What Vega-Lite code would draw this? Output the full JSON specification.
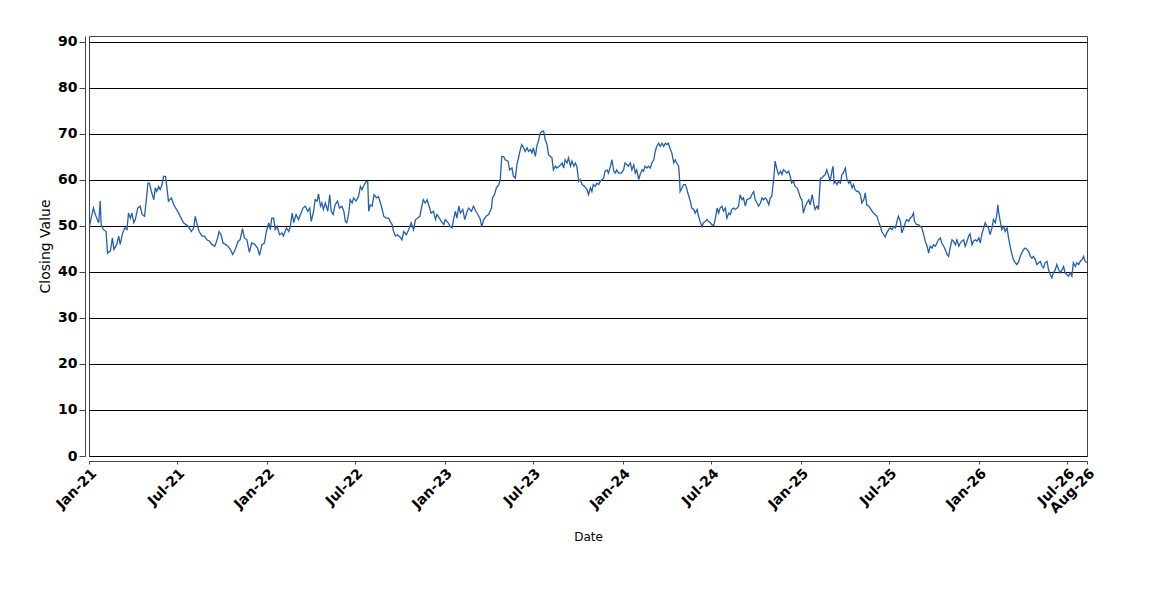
{
"$schema": "https://vega.github.io/schema/vega-lite/v6.json",
"width": 998,
"height": 420,
"autosize": {"type": "none"},
"padding": {"left": 89, "top": 36, "right": 63, "bottom": 144},
"background": "white",
"config": {"view": {"stroke": "#444444", "strokeWidth": 1}, "font": "DejaVu Sans"},
"data": {"values": [
{"date":"2021-01-01","value":49.5},{"date":"2021-01-07","value":52.5},{"date":"2021-01-10","value":53.9},{"date":"2021-01-14","value":52.5},{"date":"2021-01-17","value":51.7},{"date":"2021-01-21","value":50.7},{"date":"2021-01-24","value":55.4},{"date":"2021-01-26","value":50.3},{"date":"2021-01-31","value":49.2},{"date":"2021-02-05","value":48.8},{"date":"2021-02-08","value":44.1},{"date":"2021-02-14","value":44.6},{"date":"2021-02-18","value":47.4},{"date":"2021-02-21","value":44.9},{"date":"2021-02-27","value":46},{"date":"2021-03-03","value":47.8},{"date":"2021-03-06","value":46},{"date":"2021-03-11","value":48.5},{"date":"2021-03-16","value":49.6},{"date":"2021-03-20","value":49.2},{"date":"2021-03-23","value":52.8},{"date":"2021-03-27","value":51.7},{"date":"2021-03-30","value":52.8},{"date":"2021-04-03","value":50.7},{"date":"2021-04-06","value":51.4},{"date":"2021-04-11","value":53.9},{"date":"2021-04-16","value":54.3},{"date":"2021-04-20","value":52.5},{"date":"2021-04-25","value":52.1},{"date":"2021-04-29","value":56.1},{"date":"2021-05-02","value":59.3},{"date":"2021-05-05","value":59.3},{"date":"2021-05-09","value":57.5},{"date":"2021-05-14","value":55.7},{"date":"2021-05-17","value":58.3},{"date":"2021-05-20","value":57.5},{"date":"2021-05-24","value":58.6},{"date":"2021-05-27","value":57.9},{"date":"2021-05-31","value":59},{"date":"2021-06-03","value":60.8},{"date":"2021-06-07","value":60.8},{"date":"2021-06-10","value":58.3},{"date":"2021-06-13","value":55.4},{"date":"2021-06-19","value":56.1},{"date":"2021-06-24","value":54.6},{"date":"2021-06-28","value":53.9},{"date":"2021-07-04","value":52.8},{"date":"2021-07-09","value":51.7},{"date":"2021-07-14","value":50.7},{"date":"2021-07-19","value":50.3},{"date":"2021-07-24","value":49.9},{"date":"2021-07-30","value":48.8},{"date":"2021-08-04","value":49.6},{"date":"2021-08-07","value":52.1},{"date":"2021-08-11","value":50.3},{"date":"2021-08-15","value":48.8},{"date":"2021-08-21","value":47.8},{"date":"2021-08-26","value":47.8},{"date":"2021-08-31","value":47},{"date":"2021-09-05","value":46.7},{"date":"2021-09-10","value":46},{"date":"2021-09-16","value":45.6},{"date":"2021-09-21","value":47},{"date":"2021-09-25","value":48.8},{"date":"2021-09-29","value":48.1},{"date":"2021-10-03","value":46.3},{"date":"2021-10-08","value":46},{"date":"2021-10-13","value":45.6},{"date":"2021-10-18","value":44.9},{"date":"2021-10-23","value":43.8},{"date":"2021-10-28","value":44.9},{"date":"2021-11-03","value":46.7},{"date":"2021-11-07","value":47},{"date":"2021-11-12","value":49.4},{"date":"2021-11-16","value":47.4},{"date":"2021-11-21","value":47},{"date":"2021-11-26","value":44.3},{"date":"2021-12-01","value":46.3},{"date":"2021-12-07","value":46},
{"date":"2021-12-13","value":45.2},{"date":"2021-12-17","value":43.6},{"date":"2021-12-22","value":46},{"date":"2021-12-27","value":46.3},{"date":"2021-12-31","value":48.8},{"date":"2022-01-05","value":50.7},{"date":"2022-01-08","value":49.2},{"date":"2022-01-11","value":51.7},{"date":"2022-01-15","value":51.7},{"date":"2022-01-18","value":49.2},{"date":"2022-01-22","value":49.9},{"date":"2022-01-27","value":48.1},{"date":"2022-02-01","value":48.5},{"date":"2022-02-04","value":47.8},{"date":"2022-02-10","value":49.6},{"date":"2022-02-15","value":48.8},{"date":"2022-02-18","value":49.9},{"date":"2022-02-22","value":52.8},{"date":"2022-02-25","value":50.7},{"date":"2022-03-02","value":52.5},{"date":"2022-03-07","value":51.4},{"date":"2022-03-11","value":52.5},{"date":"2022-03-16","value":53.9},{"date":"2022-03-21","value":54.3},{"date":"2022-03-26","value":53.2},{"date":"2022-03-30","value":53.9},{"date":"2022-04-02","value":51},{"date":"2022-04-07","value":53.2},{"date":"2022-04-10","value":55.7},{"date":"2022-04-14","value":55.4},{"date":"2022-04-17","value":57},{"date":"2022-04-21","value":54.3},{"date":"2022-04-24","value":55},{"date":"2022-04-27","value":53.6},{"date":"2022-05-01","value":55},{"date":"2022-05-06","value":53.2},{"date":"2022-05-10","value":56.8},{"date":"2022-05-13","value":53.2},{"date":"2022-05-17","value":52.5},{"date":"2022-05-21","value":54.6},{"date":"2022-05-26","value":55.4},{"date":"2022-05-30","value":53.9},{"date":"2022-06-04","value":54.3},{"date":"2022-06-08","value":53.2},{"date":"2022-06-11","value":51},{"date":"2022-06-14","value":50.7},{"date":"2022-06-18","value":52.8},{"date":"2022-06-21","value":55.7},{"date":"2022-06-25","value":55},{"date":"2022-06-28","value":56.1},{"date":"2022-07-03","value":55.4},{"date":"2022-07-08","value":56.4},{"date":"2022-07-12","value":58.6},{"date":"2022-07-15","value":57.9},{"date":"2022-07-20","value":59},{"date":"2022-07-24","value":59.7},{"date":"2022-07-27","value":59.7},{"date":"2022-07-29","value":53.2},{"date":"2022-08-01","value":54.6},{"date":"2022-08-05","value":54.3},{"date":"2022-08-09","value":56.8},{"date":"2022-08-14","value":56.1},{"date":"2022-08-18","value":56.4},{"date":"2022-08-22","value":55},{"date":"2022-08-25","value":53.9},{"date":"2022-08-29","value":52.1},{"date":"2022-09-03","value":51.7},{"date":"2022-09-08","value":51.7},{"date":"2022-09-11","value":51},{"date":"2022-09-15","value":50.3},{"date":"2022-09-18","value":48.8},{"date":"2022-09-22","value":47.8},{"date":"2022-09-26","value":48.1},{"date":"2022-10-02","value":47.5},{"date":"2022-10-05","value":47},{"date":"2022-10-09","value":48.8},{"date":"2022-10-14","value":48.1},{"date":"2022-10-19","value":49.2},{"date":"2022-10-24","value":50.7},{"date":"2022-10-29","value":49.2},{"date":"2022-11-02","value":51.4},{"date":"2022-11-06","value":51.7},{"date":"2022-11-11","value":52.1},
{"date":"2022-11-14","value":53.9},{"date":"2022-11-18","value":55.7},{"date":"2022-11-22","value":55},{"date":"2022-11-26","value":55.7},{"date":"2022-11-30","value":54.3},{"date":"2022-12-04","value":52.8},{"date":"2022-12-09","value":53.2},{"date":"2022-12-13","value":51.4},{"date":"2022-12-16","value":52.5},{"date":"2022-12-21","value":51.7},{"date":"2022-12-25","value":51},{"date":"2022-12-30","value":50.3},{"date":"2023-01-02","value":51.4},{"date":"2023-01-08","value":50.7},{"date":"2023-01-12","value":49.9},{"date":"2023-01-16","value":49.6},{"date":"2023-01-19","value":51.4},{"date":"2023-01-23","value":53.2},{"date":"2023-01-26","value":51.7},{"date":"2023-01-30","value":54.3},{"date":"2023-02-02","value":52.8},{"date":"2023-02-07","value":53.6},{"date":"2023-02-11","value":51.4},{"date":"2023-02-16","value":53.2},{"date":"2023-02-19","value":53.9},{"date":"2023-02-25","value":53.2},{"date":"2023-03-01","value":54.3},{"date":"2023-03-06","value":53.2},{"date":"2023-03-10","value":52.5},{"date":"2023-03-15","value":51.4},{"date":"2023-03-18","value":49.8},{"date":"2023-03-22","value":51.4},{"date":"2023-03-27","value":52.1},{"date":"2023-04-01","value":52.5},{"date":"2023-04-07","value":53.9},{"date":"2023-04-09","value":56.1},{"date":"2023-04-13","value":56.8},{"date":"2023-04-17","value":58.3},{"date":"2023-04-22","value":59},{"date":"2023-04-25","value":60.1},{"date":"2023-04-28","value":65.1},{"date":"2023-05-02","value":65.1},{"date":"2023-05-05","value":64.4},{"date":"2023-05-11","value":64.1},{"date":"2023-05-14","value":62.2},{"date":"2023-05-19","value":62.6},{"date":"2023-05-22","value":60.8},{"date":"2023-05-26","value":60.4},{"date":"2023-05-29","value":63.3},{"date":"2023-06-02","value":65.1},{"date":"2023-06-05","value":66.6},{"date":"2023-06-08","value":67.7},{"date":"2023-06-12","value":67},{"date":"2023-06-15","value":66.2},{"date":"2023-06-19","value":67},{"date":"2023-06-22","value":66.2},{"date":"2023-06-26","value":66.6},{"date":"2023-06-29","value":65.9},{"date":"2023-07-02","value":67},{"date":"2023-07-06","value":65.1},{"date":"2023-07-09","value":67.3},{"date":"2023-07-13","value":68.8},{"date":"2023-07-16","value":70.2},{"date":"2023-07-20","value":70.6},{"date":"2023-07-23","value":70.6},{"date":"2023-07-26","value":68.8},{"date":"2023-07-30","value":67.7},{"date":"2023-08-02","value":65.5},{"date":"2023-08-06","value":65.1},{"date":"2023-08-09","value":64.8},{"date":"2023-08-12","value":62.2},{"date":"2023-08-16","value":63},{"date":"2023-08-19","value":62.6},{"date":"2023-08-24","value":63},{"date":"2023-08-30","value":63.7},{"date":"2023-09-02","value":62.6},{"date":"2023-09-05","value":64.4},{"date":"2023-09-09","value":63.7},{"date":"2023-09-12","value":64.8},{"date":"2023-09-16","value":63},{"date":"2023-09-19","value":64.1},{"date":"2023-09-23","value":63},{"date":"2023-09-26","value":63.7},{"date":"2023-09-29","value":63},{"date":"2023-10-03","value":59.7},{"date":"2023-10-06","value":60.1},{"date":"2023-10-10","value":59},{"date":"2023-10-15","value":58.6},
{"date":"2023-10-20","value":57.9},{"date":"2023-10-23","value":56.8},{"date":"2023-10-27","value":58.3},{"date":"2023-10-30","value":57.5},{"date":"2023-11-02","value":59},{"date":"2023-11-06","value":58.6},{"date":"2023-11-09","value":59.3},{"date":"2023-11-13","value":59},{"date":"2023-11-16","value":59.7},{"date":"2023-11-20","value":60.1},{"date":"2023-11-23","value":60.4},{"date":"2023-11-26","value":61.9},{"date":"2023-11-30","value":62.2},{"date":"2023-12-03","value":61.5},{"date":"2023-12-07","value":63},{"date":"2023-12-10","value":64.4},{"date":"2023-12-14","value":61.9},{"date":"2023-12-17","value":61.5},{"date":"2023-12-20","value":62.2},{"date":"2023-12-24","value":61.5},{"date":"2023-12-29","value":61.5},{"date":"2024-01-03","value":62.2},{"date":"2024-01-06","value":63.7},{"date":"2024-01-10","value":63.3},{"date":"2024-01-13","value":63},{"date":"2024-01-17","value":63.7},{"date":"2024-01-20","value":62.2},{"date":"2024-01-24","value":63.3},{"date":"2024-01-27","value":61.5},{"date":"2024-01-30","value":62.2},{"date":"2024-02-03","value":60.1},{"date":"2024-02-06","value":61.2},{"date":"2024-02-10","value":62.2},{"date":"2024-02-13","value":61.9},{"date":"2024-02-16","value":63},{"date":"2024-02-20","value":62.6},{"date":"2024-02-23","value":63},{"date":"2024-02-27","value":62.6},{"date":"2024-03-01","value":63.7},{"date":"2024-03-05","value":64.4},{"date":"2024-03-08","value":66.2},{"date":"2024-03-11","value":67.3},{"date":"2024-03-15","value":68},{"date":"2024-03-18","value":67.3},{"date":"2024-03-22","value":68},{"date":"2024-03-25","value":67.3},{"date":"2024-03-29","value":68},{"date":"2024-04-01","value":67.7},{"date":"2024-04-04","value":68},{"date":"2024-04-08","value":66.6},{"date":"2024-04-11","value":65.9},{"date":"2024-04-15","value":63.7},{"date":"2024-04-18","value":64.4},{"date":"2024-04-21","value":63.7},{"date":"2024-04-25","value":63},{"date":"2024-04-27","value":60.1},{"date":"2024-04-28","value":57.5},{"date":"2024-05-02","value":58.3},{"date":"2024-05-05","value":59},{"date":"2024-05-09","value":59},{"date":"2024-05-12","value":57.9},{"date":"2024-05-15","value":56.8},{"date":"2024-05-19","value":55.4},{"date":"2024-05-22","value":53.9},{"date":"2024-05-26","value":53.6},{"date":"2024-05-29","value":52.8},{"date":"2024-06-02","value":53.6},{"date":"2024-06-05","value":52.1},{"date":"2024-06-08","value":51},{"date":"2024-06-12","value":49.9},{"date":"2024-06-15","value":50.7},{"date":"2024-06-19","value":51},{"date":"2024-06-22","value":51.4},{"date":"2024-06-25","value":51},{"date":"2024-06-29","value":50.7},{"date":"2024-07-02","value":50.3},{"date":"2024-07-06","value":50.1},{"date":"2024-07-09","value":51.4},{"date":"2024-07-13","value":53.9},{"date":"2024-07-16","value":52.8},{"date":"2024-07-19","value":53.9},{"date":"2024-07-23","value":54.3},{"date":"2024-07-26","value":53.2},{"date":"2024-07-30","value":53.9},{"date":"2024-08-02","value":51.7},{"date":"2024-08-06","value":52.8},{"date":"2024-08-09","value":52.5},{"date":"2024-08-12","value":53.6},{"date":"2024-08-16","value":53.9},{"date":"2024-08-19","value":53.6},{"date":"2024-08-23","value":53.9},{"date":"2024-08-26","value":54.3},{"date":"2024-08-29","value":56.8},{"date":"2024-09-02","value":55.7},{"date":"2024-09-05","value":56.1},{"date":"2024-09-09","value":54.3},{"date":"2024-09-12","value":55.7},
{"date":"2024-09-19","value":56.1},{"date":"2024-09-22","value":56.8},{"date":"2024-09-26","value":57.5},{"date":"2024-09-29","value":55.7},{"date":"2024-10-03","value":55},{"date":"2024-10-06","value":54.3},{"date":"2024-10-10","value":55},{"date":"2024-10-13","value":56.1},{"date":"2024-10-16","value":55.7},{"date":"2024-10-20","value":56.1},{"date":"2024-10-23","value":55.7},{"date":"2024-10-27","value":54.6},{"date":"2024-10-30","value":56.1},{"date":"2024-11-02","value":56.4},{"date":"2024-11-06","value":60.1},{"date":"2024-11-09","value":64.1},{"date":"2024-11-13","value":62.2},{"date":"2024-11-16","value":61.2},{"date":"2024-11-20","value":61.9},{"date":"2024-11-23","value":61.2},{"date":"2024-11-26","value":62.2},{"date":"2024-11-30","value":61.9},{"date":"2024-12-03","value":61.5},{"date":"2024-12-07","value":61.9},{"date":"2024-12-10","value":60.8},{"date":"2024-12-13","value":59.3},{"date":"2024-12-17","value":59.7},{"date":"2024-12-20","value":58.6},{"date":"2024-12-24","value":58.3},{"date":"2024-12-27","value":57.5},{"date":"2024-12-31","value":56.1},{"date":"2025-01-03","value":55.7},{"date":"2025-01-06","value":52.8},{"date":"2025-01-10","value":54.3},{"date":"2025-01-13","value":55},{"date":"2025-01-17","value":55.7},{"date":"2025-01-20","value":54.6},{"date":"2025-01-24","value":56.8},{"date":"2025-01-27","value":55},{"date":"2025-01-30","value":53.6},{"date":"2025-02-03","value":54.3},{"date":"2025-02-06","value":53.6},{"date":"2025-02-10","value":60.4},{"date":"2025-02-13","value":60.4},{"date":"2025-02-16","value":60.8},{"date":"2025-02-20","value":61.2},{"date":"2025-02-23","value":62.2},{"date":"2025-02-27","value":60.8},{"date":"2025-03-02","value":59.7},{"date":"2025-03-06","value":62.2},{"date":"2025-03-08","value":63},{"date":"2025-03-10","value":59.3},{"date":"2025-03-12","value":59.7},{"date":"2025-03-16","value":59},{"date":"2025-03-19","value":59.7},{"date":"2025-03-23","value":59.3},{"date":"2025-03-26","value":61.2},{"date":"2025-03-29","value":61.5},{"date":"2025-04-02","value":62.6},{"date":"2025-04-05","value":60.4},{"date":"2025-04-09","value":59.3},{"date":"2025-04-12","value":59.7},{"date":"2025-04-16","value":58.3},{"date":"2025-04-19","value":59},{"date":"2025-04-22","value":57.9},{"date":"2025-04-26","value":57.5},{"date":"2025-04-29","value":57.5},{"date":"2025-05-03","value":56.8},{"date":"2025-05-06","value":55},{"date":"2025-05-10","value":55.7},{"date":"2025-05-13","value":57.2},{"date":"2025-05-16","value":54.6},{"date":"2025-05-20","value":54.3},{"date":"2025-05-23","value":53.9},{"date":"2025-05-27","value":53.2},{"date":"2025-05-30","value":52.8},{"date":"2025-06-02","value":52.5},{"date":"2025-06-06","value":52.1},{"date":"2025-06-09","value":51},{"date":"2025-06-13","value":49.9},{"date":"2025-06-16","value":48.8},{"date":"2025-06-20","value":48.1},{"date":"2025-06-23","value":47.6},{"date":"2025-06-26","value":48.5},{"date":"2025-06-30","value":49.2},{"date":"2025-07-03","value":49.6},{"date":"2025-07-07","value":49.2},{"date":"2025-07-10","value":49.9},{"date":"2025-07-14","value":49.6},{"date":"2025-07-17","value":51},{"date":"2025-07-20","value":52.1},{"date":"2025-07-24","value":51},{"date":"2025-07-27","value":48.5},{"date":"2025-07-31","value":49.6},{"date":"2025-08-03","value":50.7},{"date":"2025-08-06","value":51.4},{"date":"2025-08-10","value":51},{"date":"2025-08-13","value":51.7},{"date":"2025-08-17","value":52.1},{"date":"2025-08-20","value":52.8},{"date":"2025-08-22","value":51},
{"date":"2025-08-26","value":50.3},{"date":"2025-08-30","value":50.3},{"date":"2025-09-03","value":49.9},{"date":"2025-09-06","value":49.6},{"date":"2025-09-10","value":48.1},{"date":"2025-09-13","value":46.7},{"date":"2025-09-17","value":45.6},{"date":"2025-09-20","value":44.1},{"date":"2025-09-23","value":45.6},{"date":"2025-09-27","value":45.2},{"date":"2025-09-30","value":45.9},{"date":"2025-10-04","value":45.6},{"date":"2025-10-07","value":46.3},{"date":"2025-10-10","value":47},{"date":"2025-10-14","value":47.4},{"date":"2025-10-17","value":46.3},{"date":"2025-10-21","value":45.6},{"date":"2025-10-24","value":44.9},{"date":"2025-10-28","value":43.8},{"date":"2025-10-31","value":43.4},{"date":"2025-11-03","value":45.2},{"date":"2025-11-07","value":47},{"date":"2025-11-10","value":46.7},{"date":"2025-11-14","value":45.9},{"date":"2025-11-17","value":47},{"date":"2025-11-21","value":45.6},{"date":"2025-11-24","value":46.3},{"date":"2025-11-27","value":46.7},{"date":"2025-12-01","value":47},{"date":"2025-12-04","value":45.6},{"date":"2025-12-08","value":46.7},{"date":"2025-12-11","value":47.8},{"date":"2025-12-14","value":48.3},{"date":"2025-12-18","value":45.9},{"date":"2025-12-21","value":46.7},{"date":"2025-12-25","value":47},{"date":"2025-12-28","value":46.7},{"date":"2026-01-01","value":47.4},{"date":"2026-01-04","value":46.3},{"date":"2026-01-07","value":48.1},{"date":"2026-01-11","value":49.6},{"date":"2026-01-14","value":50.7},{"date":"2026-01-18","value":49.9},{"date":"2026-01-21","value":49.6},{"date":"2026-01-24","value":48.1},{"date":"2026-01-28","value":49.6},{"date":"2026-01-31","value":51.4},{"date":"2026-02-04","value":50.7},{"date":"2026-02-07","value":52.5},{"date":"2026-02-09","value":54.6},{"date":"2026-02-11","value":52.8},{"date":"2026-02-14","value":51},{"date":"2026-02-17","value":49.2},{"date":"2026-02-21","value":49.9},{"date":"2026-02-24","value":48.8},{"date":"2026-02-28","value":49.6},{"date":"2026-03-03","value":47.4},{"date":"2026-03-07","value":45.2},{"date":"2026-03-10","value":43.8},{"date":"2026-03-13","value":42.7},{"date":"2026-03-17","value":42},{"date":"2026-03-20","value":41.6},{"date":"2026-03-24","value":42.3},{"date":"2026-03-27","value":43.4},{"date":"2026-03-30","value":44.1},{"date":"2026-04-03","value":44.9},{"date":"2026-04-06","value":45.2},{"date":"2026-04-10","value":44.9},{"date":"2026-04-13","value":44.5},{"date":"2026-04-17","value":43.4},{"date":"2026-04-20","value":43},{"date":"2026-04-23","value":43.4},{"date":"2026-04-27","value":42.7},{"date":"2026-04-30","value":41.6},{"date":"2026-05-04","value":42},{"date":"2026-05-07","value":42.3},{"date":"2026-05-11","value":41.2},{"date":"2026-05-14","value":40.9},{"date":"2026-05-17","value":42},{"date":"2026-05-21","value":42.3},{"date":"2026-05-24","value":40.5},{"date":"2026-05-28","value":39.4},{"date":"2026-05-31","value":38.7},{"date":"2026-06-03","value":39.8},{"date":"2026-06-07","value":40.5},{"date":"2026-06-10","value":41.6},{"date":"2026-06-14","value":40.5},{"date":"2026-06-17","value":39.8},{"date":"2026-06-21","value":40.5},{"date":"2026-06-24","value":41.2},{"date":"2026-06-27","value":39.8},{"date":"2026-07-01","value":39.4},{"date":"2026-07-04","value":39.1},{"date":"2026-07-08","value":39.8},{"date":"2026-07-11","value":39.1},{"date":"2026-07-14","value":42},{"date":"2026-07-18","value":41.2},{"date":"2026-07-21","value":42},{"date":"2026-07-25","value":41.6},{"date":"2026-07-28","value":42.3},{"date":"2026-08-01","value":42.7},{"date":"2026-08-04","value":43.4},{"date":"2026-08-07","value":42.3},{"date":"2026-08-11","value":42}
]},
"mark": {"type": "line", "color": "#2260ae", "strokeWidth": 1.3, "clip": true},
"encoding": {
"x": {"field": "date", "type": "temporal",
 "scale": {"type": "utc", "domain": [{"year": 2021, "month": 1, "date": 1, "utc": true}, {"year": 2026, "month": 8, "date": 11, "utc": true}]},
 "axis": {"title": "Date", "titleFont": "DejaVu Sans", "titleFontSize": 12, "titleFontWeight": "normal", "titleColor": "#000000", "titleY": 75, "titleBaseline": "middle",
  "offset": 5, "domainColor": "#444444", "tickColor": "#444444", "tickSize": 3, "grid": false,
  "labelAngle": -45, "labelAlign": "right", "labelBaseline": "top", "labelFontSize": 14, "labelFontWeight": "bold", "labelColor": "#000000", "labelPadding": 2, "labelOverlap": false, "labelFlush": false,
  "format": "%b-%y",
  "values": [{"year": 2021, "month": 1, "date": 1, "utc": true}, {"year": 2021, "month": 7, "date": 1, "utc": true}, {"year": 2022, "month": 1, "date": 1, "utc": true}, {"year": 2022, "month": 7, "date": 1, "utc": true}, {"year": 2023, "month": 1, "date": 1, "utc": true}, {"year": 2023, "month": 7, "date": 1, "utc": true}, {"year": 2024, "month": 1, "date": 1, "utc": true}, {"year": 2024, "month": 7, "date": 1, "utc": true}, {"year": 2025, "month": 1, "date": 1, "utc": true}, {"year": 2025, "month": 7, "date": 1, "utc": true}, {"year": 2026, "month": 1, "date": 1, "utc": true}, {"year": 2026, "month": 7, "date": 1, "utc": true}, {"year": 2026, "month": 8, "date": 11, "utc": true}]}},
"y": {"field": "value", "type": "quantitative",
 "scale": {"domain": [0, 91.3], "nice": false, "zero": true},
 "axis": {"title": "Closing Value", "titleFont": "DejaVu Sans", "titleFontSize": 14, "titleFontWeight": "normal", "titleColor": "#000000", "titleX": -40, "titleBaseline": "middle", "titleAlign": "center",
  "offset": 4, "values": [0, 10, 20, 30, 40, 50, 60, 70, 80, 90], "tickSize": 6, "tickColor": "#444444", "domainColor": "#444444",
  "labelFontSize": 14, "labelFontWeight": "bold", "labelColor": "#000000", "labelPadding": 2,
  "grid": true, "gridColor": "#000000", "gridWidth": 1, "gridOpacity": 1}}
}
}
